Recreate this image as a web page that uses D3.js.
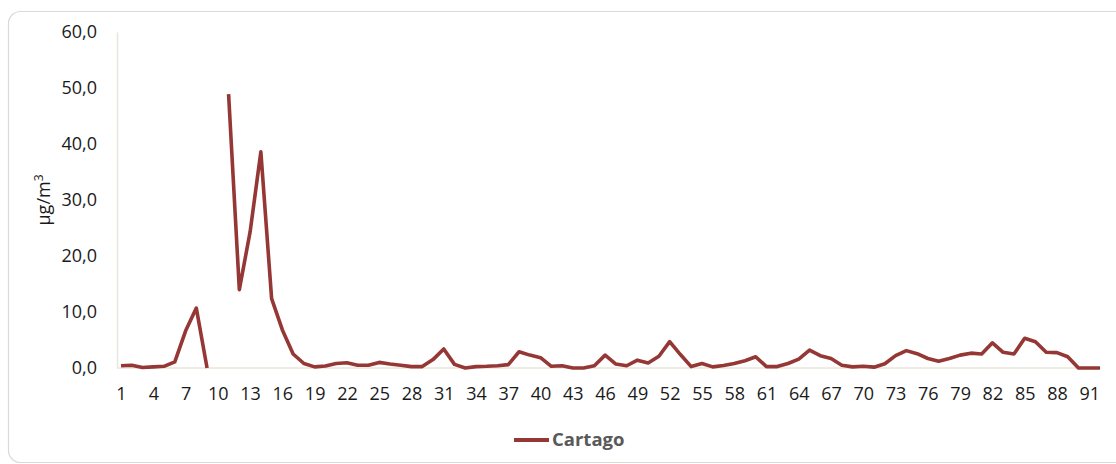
<!DOCTYPE html>
<html>
<head>
<meta charset="utf-8">
<script src="https://cdn.jsdelivr.net/npm/d3@7"></script>
<style>
  html, body { margin: 0; padding: 0; background: #ffffff; }
  svg { display: block; }
</style>
</head>
<body>
<svg id="chart" width="1116" height="464"></svg>
<script>
// Daily concentration series for Cartago (µg/m³); null = no measurement
const seriesName = "Cartago";
const days = d3.range(1, 93);
const cartago = [
  0.4, 0.5, 0.1, 0.2, 0.3, 1.1, 6.6, 10.7, 0.0, null,
  48.9, 14.0, 24.3, 38.6, 12.4, 6.8, 2.5, 0.8, 0.2, 0.35,
  0.8, 0.95, 0.5, 0.5, 1.0, 0.7, 0.5, 0.25, 0.25, 1.5,
  3.4, 0.65, 0.0, 0.25, 0.3, 0.4, 0.6, 2.9, 2.3, 1.85,
  0.3, 0.4, 0.0, 0.0, 0.4, 2.3, 0.7, 0.4, 1.4, 0.9,
  2.1, 4.7, 2.4, 0.25, 0.8, 0.2, 0.45, 0.8, 1.3, 2.0,
  0.25, 0.25, 0.8, 1.6, 3.2, 2.2, 1.7, 0.5, 0.2, 0.3,
  0.15, 0.75, 2.2, 3.1, 2.55, 1.7, 1.2, 1.7, 2.3, 2.65,
  2.5, 4.5, 2.8, 2.5, 5.3, 4.7, 2.8, 2.75, 2.0, 0.0,
  0.0, 0.0
];
const yTicks = [0, 10, 20, 30, 40, 50, 60];
const xTickLabels = days.filter(d => (d - 1) % 3 === 0);
const yTitle = "µg/m";

const svg = d3.select("#chart");
const plot = { left: 117, right: 1101, top: 32, bottom: 368 };

// Rounded chart frame
svg.append("rect")
  .attr("x", 8.5).attr("y", 11.5)
  .attr("width", 1120).attr("height", 451)
  .attr("rx", 12).attr("ry", 12)
  .attr("fill", "#ffffff")
  .attr("stroke", "#d9d9d9")
  .attr("stroke-width", 1.2);

const x = d3.scalePoint()
  .domain(days)
  .range([121, 1100]);

const y = d3.scaleLinear()
  .domain([0, 60])
  .range([plot.bottom, plot.top]);

const fontFamily = "'Open Sans', 'Noto Sans', sans-serif";

// Y axis
const yAxis = d3.axisLeft(y)
  .tickValues(yTicks)
  .tickSize(0)
  .tickPadding(20)
  .tickFormat(d => d3.format(".1f")(d).replace(".", ","));

const gy = svg.append("g")
  .attr("transform", `translate(${plot.left},0)`)
  .call(yAxis);
gy.select(".domain").attr("stroke", "#e8e6da").attr("stroke-width", 1.5);
gy.selectAll("text")
  .attr("font-family", fontFamily)
  .attr("font-size", 18)
  .attr("fill", "#1a1a1a");

// X axis
const xAxis = d3.axisBottom(x)
  .tickValues(xTickLabels)
  .tickSize(0)
  .tickPadding(19);

const gx = svg.append("g")
  .attr("transform", `translate(0,${plot.bottom})`)
  .call(xAxis);
gx.select(".domain")
  .attr("d", `M${plot.left},0H${plot.right}`)
  .attr("stroke", "#e8e6da").attr("stroke-width", 1.5);
gx.selectAll("text")
  .attr("font-family", fontFamily)
  .attr("font-size", 18)
  .attr("fill", "#1a1a1a");

// Y axis title
svg.append("text")
  .attr("transform", "translate(50,200) rotate(-90)")
  .attr("text-anchor", "middle")
  .attr("font-family", fontFamily)
  .attr("font-size", 18)
  .attr("fill", "#1a1a1a")
  .text(yTitle)
  .append("tspan")
  .attr("dy", -7)
  .attr("font-size", 12)
  .text("3");

// Series line
const lineColor = "#953735";
const line = d3.line()
  .defined(d => d.v !== null)
  .x(d => x(d.day))
  .y(d => y(d.v));

svg.append("path")
  .datum(days.map((d, i) => ({ day: d, v: cartago[i] })))
  .attr("fill", "none")
  .attr("stroke", lineColor)
  .attr("stroke-width", 3.6)
  .attr("stroke-linejoin", "round")
  .attr("d", line);

// Legend
const legend = svg.append("g").attr("transform", "translate(514,440)");
legend.append("line")
  .attr("x1", 0).attr("x2", 35)
  .attr("y1", 0).attr("y2", 0)
  .attr("stroke", lineColor)
  .attr("stroke-width", 4);
legend.append("text")
  .attr("x", 38).attr("y", 0)
  .attr("dy", "0.35em")
  .attr("font-family", fontFamily)
  .attr("font-size", 18.5)
  .attr("font-weight", "bold")
  .attr("fill", "#595959")
  .text(seriesName);
</script>
</body>
</html>
